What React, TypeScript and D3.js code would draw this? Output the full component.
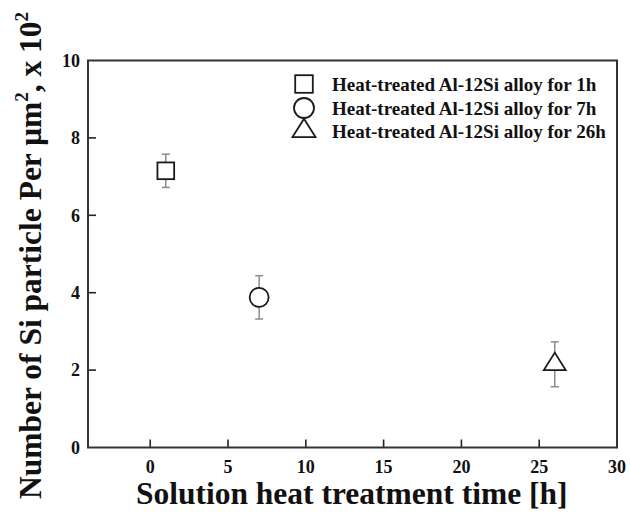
import React from "react";
import * as d3 from "d3";

const times = [1, 7, 26];
const values = [7.15, 3.88, 2.15];
const errors = [0.43, 0.56, 0.58];
const shapes = ["square", "circle", "triangle"];
const legendLabels = [
  "Heat-treated Al-12Si alloy for 1h",
  "Heat-treated Al-12Si alloy for 7h",
  "Heat-treated Al-12Si alloy for 26h",
];
const xTicks = [0, 5, 10, 15, 20, 25, 30];
const yTicks = [0, 2, 4, 6, 8, 10];

const W = 630;
const H = 512;
const left = 88;
const right = 617;
const top = 60.5;
const bottom = 447.5;
const FONT = "'Liberation Serif', 'Times New Roman', Times, serif";

function Marker({ shape, cx, cy, s }: { shape: string; cx: number; cy: number; s: number }) {
  const stroke = "#1a1a1a";
  const sw = 1.8;
  if (shape === "square") {
    const a = s * 0.88;
    return <rect x={cx - a / 2} y={cy - a / 2} width={a} height={a} fill="#fff" stroke={stroke} strokeWidth={sw} />;
  }
  if (shape === "circle") {
    return <circle cx={cx} cy={cy} r={s / 2} fill="#fff" stroke={stroke} strokeWidth={sw} />;
  }
  const w = s * 1.15;
  const h = s * 0.92;
  const p = d3.path();
  p.moveTo(cx, cy - (2 * h) / 3);
  p.lineTo(cx + w / 2, cy + h / 3);
  p.lineTo(cx - w / 2, cy + h / 3);
  p.closePath();
  return <path d={p.toString()} fill="#fff" stroke={stroke} strokeWidth={sw} strokeLinejoin="miter" />;
}

export default function App() {
  const x = d3.scaleLinear().domain([-4, 30]).range([left, right]);
  const y = d3.scaleLinear().domain([0, 10]).range([bottom, top]);
  const legendRows = [84, 108, 131];

  return (
    <svg width={W} height={H} style={{ position: "absolute", left: 0, top: 0, background: "#fff" }} fontFamily={FONT}>
      <rect x={0} y={0} width={W} height={H} fill="#fff" />
      {/* ticks */}
      {xTicks.map((t) => (
        <g key={"xt" + t}>
          {x(t) > left + 1 && x(t) < right - 1 && (
            <line x1={x(t)} x2={x(t)} y1={bottom} y2={bottom - 8} stroke="#222" strokeWidth={1.6} />
          )}
          <text x={x(t)} y={473} textAnchor="middle" fontSize={18} fontWeight="bold" fill="#111">
            {t}
          </text>
        </g>
      ))}
      {yTicks.map((t) => (
        <g key={"yt" + t}>
          {y(t) > top + 1 && y(t) < bottom - 1 && (
            <line x1={left} x2={left + 8} y1={y(t)} y2={y(t)} stroke="#222" strokeWidth={1.6} />
          )}
          <text x={80} y={y(t)} dy="0.35em" textAnchor="end" fontSize={18} fontWeight="bold" fill="#111">
            {t}
          </text>
        </g>
      ))}
      <rect x={left} y={top} width={right - left} height={bottom - top} fill="none" stroke="#333" strokeWidth={2} />

      {/* error bars */}
      {times.map((t, i) => {
        const cx = x(t);
        const y1 = y(values[i] + errors[i]);
        const y2 = y(values[i] - errors[i]);
        return (
          <g key={"eb" + i} stroke="#8c8c8c" strokeWidth={1.5}>
            <line x1={cx} x2={cx} y1={y1} y2={y2} />
            <line x1={cx - 4} x2={cx + 4} y1={y1} y2={y1} />
            <line x1={cx - 4} x2={cx + 4} y1={y2} y2={y2} />
          </g>
        );
      })}
      {times.map((t, i) => (
        <Marker key={"m" + i} shape={shapes[i]} cx={x(t)} cy={y(values[i])} s={19} />
      ))}

      {/* legend */}
      {legendLabels.map((lab, i) => (
        <g key={"lg" + i}>
          <Marker shape={shapes[i]} cx={304} cy={legendRows[i]} s={20} />
          <text x={332} y={legendRows[i]} dy="0.35em" fontSize={19} fontWeight="bold" fill="#111">
            {lab}
          </text>
        </g>
      ))}

      {/* axis titles */}
      <text x={(136.7 + 566.7) / 2} y={504} textAnchor="middle" fontSize={31.5} fontWeight="bold" fill="#111">
        Solution heat treatment time [h]
      </text>
      <text
        transform={`translate(41, 499) rotate(-90)`}
        textAnchor="start"
        fontSize={31.5}
        fontWeight="bold"
        fill="#111"
      >
        Number of Si particle Per μm
        <tspan fontSize={19} dy={-13}>2</tspan>
        <tspan dy={13}>, x 10</tspan>
        <tspan fontSize={19} dy={-13}>2</tspan>
      </text>
    </svg>
  );
}
